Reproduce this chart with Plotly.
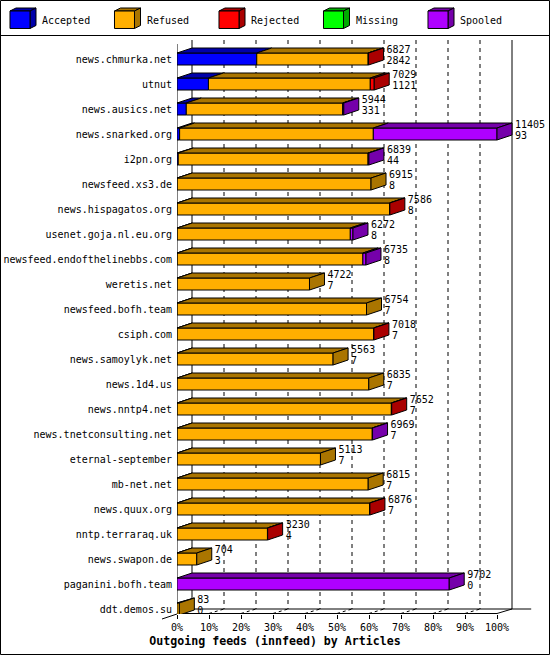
import plotly.graph_objects as go

# ---------------- data ----------------
hosts = [
    "news.chmurka.net", "utnut", "news.ausics.net", "news.snarked.org", "i2pn.org",
    "newsfeed.xs3.de", "news.hispagatos.org", "usenet.goja.nl.eu.org",
    "newsfeed.endofthelinebbs.com", "weretis.net", "newsfeed.bofh.team", "csiph.com",
    "news.samoylyk.net", "news.1d4.us", "news.nntp4.net", "news.tnetconsulting.net",
    "eternal-september", "mb-net.net", "news.quux.org", "nntp.terraraq.uk",
    "news.swapon.de", "paganini.bofh.team", "ddt.demos.su",
]
totals = [6827, 7029, 5944, 11405, 6839, 6915, 7586, 6272, 6735, 4722, 6754, 7018,
          5563, 6835, 7652, 6969, 5113, 6815, 6876, 3230, 704, 9702, 83]
accepted = [2842, 1121, 331, 93, 44, 8, 8, 8, 8, 7, 7, 7, 7, 7, 7, 7, 7, 7, 7, 4, 3, 0, 0]
refused = [3970, 5768, 5573, 6904, 6765, 6907, 7566, 6169, 6617, 4715, 6747, 6999,
           5556, 6828, 7633, 6952, 5106, 6808, 6857, 3220, 701, 0, 83]
rejected = [15, 140, 0, 0, 0, 0, 12, 0, 0, 0, 0, 12, 0, 0, 12, 0, 0, 0, 12, 6, 0, 0, 0]
missing = [0] * 23
spooled = [0, 0, 40, 4408, 30, 0, 0, 95, 110, 0, 0, 0, 0, 0, 0, 10, 0, 0, 0, 0, 0, 9702, 0]

series_names = ["Accepted", "Refused", "Rejected", "Missing", "Spooled"]
tick_values = [0, 10, 20, 30, 40, 50, 60, 70, 80, 90, 100]
tick_labels = ["0%", "10%", "20%", "30%", "40%", "50%", "60%", "70%", "80%", "90%", "100%"]
title_text = "Outgoing feeds (innfeed) by Articles"

# ---------------- style ----------------
FONT = "DejaVu Sans Mono"
front_colors = ["#0000FF", "#FFAF00", "#FF0000", "#00FF00", "#AF00FF"]
dark_colors = ["#0000AA", "#AA7500", "#AA0000", "#00AA00", "#7500AA"]
series = [accepted, refused, rejected, missing, spooled]

W, H = 550, 655
ML, MR, MT, MB = 177, 10, 36, 41
PX_PER_PCT = 3.2
ROW_PX = 25
ROW0_PX = 59
plot_w = W - ML - MR
plot_h = H - MT - MB
x_max = plot_w / PX_PER_PCT
y_top = (MT - ROW0_PX) / ROW_PX
y_bot = (H - MB - ROW0_PX) / ROW_PX

DX = 15 / PX_PER_PCT      # depth offset in x (percent units)
DY = 5 / ROW_PX           # depth offset in y (row units)
HH = 0.24                 # half bar height (rows)
LABEL_GAP = 3 / PX_PER_PCT

scale = 100.0 / max(totals)
n = len(hosts)


def pxx(p):
    return (p - ML) / plot_w


def pxy(p):
    return 1 - (p - MT) / plot_h


fig = go.Figure()

# ---------------- front faces (bars) ----------------
cum = [0.0] * n
seg_bounds = [[] for _ in series]
for s, vals in enumerate(series):
    xs, bs, ys = [], [], []
    for i, v in enumerate(vals):
        if v > 0:
            xs.append(v * scale)
            bs.append(cum[i] * scale)
            ys.append(i)
            seg_bounds[s].append((i, cum[i] * scale, (cum[i] + v) * scale))
            cum[i] += v
    if xs:
        fig.add_trace(go.Bar(
            orientation="h", x=xs, base=bs, y=ys, width=2 * HH,
            marker=dict(color=front_colors[s], line=dict(color="black", width=1)),
            showlegend=False, hoverinfo="skip",
        ))

# ---------------- top faces ----------------
for s in range(len(series)):
    px, py = [], []
    for (i, b, e) in seg_bounds[s]:
        px += [b, b + DX, e + DX, e, b, None]
        py += [i - HH, i - HH - DY, i - HH - DY, i - HH, i - HH, None]
    if px:
        fig.add_trace(go.Scatter(
            x=px, y=py, mode="lines", fill="toself", fillcolor=dark_colors[s],
            line=dict(color="black", width=1), showlegend=False, hoverinfo="skip",
        ))

# ---------------- end (side) faces ----------------
for s in range(len(series)):
    px, py = [], []
    for i in range(n):
        last = None
        for k in range(len(series)):
            if series[k][i] > 0:
                last = k
        if last == s:
            t = cum[i] * scale
            px += [t, t + DX, t + DX, t, t, None]
            py += [i - HH, i - HH - DY, i + HH - DY, i + HH, i - HH, None]
    if px:
        fig.add_trace(go.Scatter(
            x=px, y=py, mode="lines", fill="toself", fillcolor=dark_colors[s],
            line=dict(color="black", width=1), showlegend=False, hoverinfo="skip",
        ))

# ---------------- value labels ----------------
lab_x = [t * scale + DX + LABEL_GAP for t in totals]
fig.add_trace(go.Scatter(
    x=lab_x, y=[i - 0.36 for i in range(n)], mode="text",
    text=[str(t) for t in totals], textposition="middle right",
    textfont=dict(family=FONT, size=10, color="black"),
    showlegend=False, hoverinfo="skip", cliponaxis=False,
))
fig.add_trace(go.Scatter(
    x=lab_x, y=[i + 0.08 for i in range(n)], mode="text",
    text=[str(a) for a in accepted], textposition="middle right",
    textfont=dict(family=FONT, size=10, color="black"),
    showlegend=False, hoverinfo="skip", cliponaxis=False,
))

# ---------------- 3D frame / grid ----------------
shapes = []
y_back_top = (40 - ROW0_PX) / ROW_PX
y_front_top = (44 - ROW0_PX) / ROW_PX
y_back_bot = y_bot - DY
y_front_bot = y_bot - 0.02
line_k = dict(color="black", width=1)
for tv in tick_values[1:-1]:
    shapes.append(dict(type="line", xref="x", yref="y", x0=tv + DX, x1=tv + DX,
                       y0=y_back_top, y1=y_back_bot, layer="below",
                       line=dict(color="black", width=1, dash="4px,4px")))
    shapes.append(dict(type="line", xref="x", yref="y", x0=tv, x1=tv + DX,
                       y0=y_front_bot, y1=y_back_bot, layer="below",
                       line=dict(color="black", width=1, dash="3px,3px")))
# back left & right verticals
shapes.append(dict(type="line", xref="x", yref="y", x0=DX, x1=DX, y0=y_back_top,
                   y1=y_back_bot, layer="below", line=line_k))
shapes.append(dict(type="line", xref="x", yref="y", x0=100 + DX, x1=100 + DX,
                   y0=y_back_top, y1=y_back_bot, layer="below", line=line_k))
# back floor line
shapes.append(dict(type="line", xref="x", yref="y", x0=DX, x1=100 + DX + 6,
                   y0=y_back_bot, y1=y_back_bot, layer="below", line=line_k))
# front left vertical
shapes.append(dict(type="line", xref="x", yref="y", x0=0, x1=0, y0=y_front_top,
                   y1=y_front_bot, layer="below", line=line_k))
# front floor line + diagonals
shapes.append(dict(type="line", xref="x", yref="y", x0=0, x1=100,
                   y0=y_front_bot, y1=y_front_bot, layer="below", line=line_k))
shapes.append(dict(type="line", xref="x", yref="y", x0=100, x1=100 + DX,
                   y0=y_front_bot, y1=y_back_bot, layer="below", line=line_k))
shapes.append(dict(type="line", xref="x", yref="y", x0=0, x1=DX,
                   y0=y_front_bot, y1=y_back_bot, layer="below", line=line_k))
shapes.append(dict(type="line", xref="paper", yref="paper", x0=pxx(162), x1=pxx(177),
                   y0=pxy(619), y1=pxy(614), line=line_k))

# ---------------- border & legend ----------------
shapes.append(dict(type="rect", xref="paper", yref="paper", x0=pxx(0.5), x1=pxx(549.5),
                   y0=pxy(654.5), y1=pxy(0.5), line=line_k))
shapes.append(dict(type="line", xref="paper", yref="paper", x0=pxx(0), x1=pxx(550),
                   y0=pxy(35.5), y1=pxy(35.5), line=line_k))

annotations = []
for k, name in enumerate(series_names):
    x0 = 10 + k * 104.5
    fx0, fx1, fy0, fy1 = x0, x0 + 20, 11, 28.5
    d, e = 6, 3

    def path(pts):
        return "M " + " L ".join(f"{pxx(a):.5f},{pxy(b):.5f}" for a, b in pts) + " Z"

    shapes.append(dict(type="path", xref="paper", yref="paper",
                       path=path([(fx0, fy0), (fx0 + d, fy0 - e), (fx1 + d, fy0 - e), (fx1, fy0)]),
                       fillcolor=dark_colors[k], line=line_k))
    shapes.append(dict(type="path", xref="paper", yref="paper",
                       path=path([(fx1, fy0), (fx1 + d, fy0 - e), (fx1 + d, fy1 - e), (fx1, fy1)]),
                       fillcolor=dark_colors[k], line=line_k))
    shapes.append(dict(type="path", xref="paper", yref="paper",
                       path=path([(fx0, fy0), (fx1, fy0), (fx1, fy1), (fx0, fy1)]),
                       fillcolor=front_colors[k], line=line_k))
    annotations.append(dict(xref="paper", yref="paper", x=pxx(x0 + 30), y=pxy(20),
                            xanchor="left", yanchor="middle", text=name, showarrow=False,
                            font=dict(family=FONT, size=10, color="black")))

fig.update_layout(
    width=W, height=H,
    margin=dict(l=ML, r=MR, t=MT, b=MB, autoexpand=False),
    paper_bgcolor="white", plot_bgcolor="rgba(0,0,0,0)",
    barmode="overlay",
    showlegend=False,
    shapes=shapes,
    annotations=annotations,
    title=dict(text=f"<b>{title_text}</b>", xref="container", yref="container",
               x=0.5, y=1 - 641 / H, xanchor="center", yanchor="middle",
               font=dict(family=FONT, size=11.6, color="black")),
    xaxis=dict(range=[0, x_max], tickvals=tick_values, ticktext=tick_labels,
               showgrid=False, zeroline=False, showline=False,
               ticks="outside", ticklen=4, tickcolor="black", tickwidth=1,
               tickfont=dict(family=FONT, size=10, color="black"), fixedrange=True),
    yaxis=dict(range=[y_bot, y_top], tickvals=list(range(n)), ticktext=hosts,
               showgrid=False, zeroline=False, showline=False, ticks="",
               ticklabelstandoff=4,
               tickfont=dict(family=FONT, size=10, color="black"), fixedrange=True),
)

fig.write_html(
    "out.html",
    config={"displayModeBar": False},
    post_script="document.body.style.margin='0';document.body.style.padding='0';",
)
